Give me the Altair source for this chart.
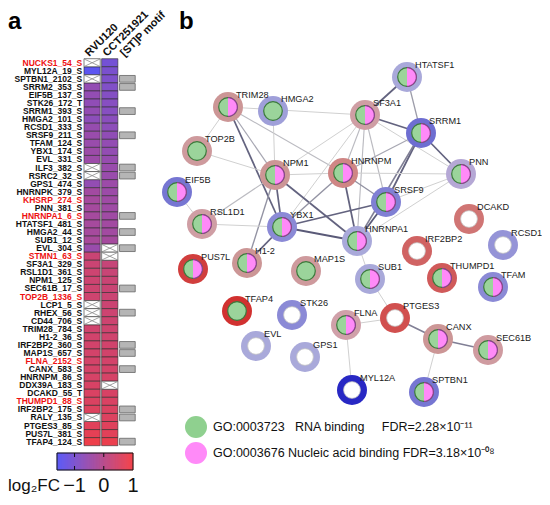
import altair as alt
import numpy as np
import pandas as pd

# ---------------- panel a: heatmap data ----------------
rows = ["NUCKS1_54_S", "MYL12A_19_S", "SPTBN1_2102_S", "SRRM2_353_S", "EIF5B_137_S",
        "STK26_172_T", "SRRM1_393_S", "HMGA2_101_S", "RCSD1_333_S", "SRSF9_211_S",
        "TFAM_124_S", "YBX1_174_S", "EVL_331_S", "ILF3_382_S", "RSRC2_32_S",
        "GPS1_474_S", "HNRNPK_379_S", "KHSRP_274_S", "PNN_381_S", "HNRNPA1_6_S",
        "HTATSF1_481_S", "HMGA2_44_S", "SUB1_12_S", "EVL_304_S", "STMN1_63_S",
        "SF3A1_329_S", "RSL1D1_361_S", "NPM1_125_S", "SEC61B_17_S", "TOP2B_1336_S",
        "LCP1_5_S", "RHEX_56_S", "CD44_706_S", "TRIM28_784_S", "H1-2_36_S",
        "IRF2BP2_360_S", "MAP1S_657_S", "FLNA_2152_S", "CANX_583_S", "HNRNPM_86_S",
        "DDX39A_183_S", "DCAKD_55_T", "THUMPD1_88_S", "IRF2BP2_175_S", "RALY_135_S",
        "PTGES3_85_S", "PUS7L_381_S", "TFAP4_124_S"]
red_rows = ["NUCKS1_54_S", "KHSRP_274_S", "HNRNPA1_6_S", "STMN1_63_S",
            "TOP2B_1336_S", "FLNA_2152_S", "THUMPD1_88_S"]
rvu120 = [None, -1.5, None, -0.6, -0.6, -0.65, -0.6, -0.7, -0.55, -0.5,
          -0.5, -0.45, -0.45, None, None, -0.6, -0.35, -0.3, -0.3, -0.3,
          -0.28, -0.28, -0.25, -0.5, 0.3, 0.32, 0.35, 0.35, 0.36, 0.38,
          None, None, None, 0.4, 0.42, 0.44, 0.45, 0.46, 0.48, 0.5,
          0.52, 0.55, 0.58, 0.62, None, 0.68, 0.75, 0.9]
cct251921 = [-1.1, -1.0, -0.95, -0.9, -0.85, -0.8, -0.8, -0.75, -0.7, -0.65,
             -0.6, -0.6, -0.55, -0.5, -0.5, -0.45, -0.45, -0.4, -0.4, -0.38,
             -0.35, -0.35, -0.3, None, None, 0.25, 0.28, 0.3, 0.3, 0.32,
             0.33, 0.35, 0.36, 0.38, 0.4, 0.42, 0.43, 0.45, 0.47, 0.5,
             None, 0.53, 0.55, 0.58, 0.6, 0.65, 0.7, 0.85]
st_motif = [0, 0, 1, 1, 0, 0, 1, 0, 0, 1, 0, 0, 0, 1, 1, 0, 0, 0, 0, 1, 0, 1, 0, 1,
            0, 0, 0, 0, 1, 0, 0, 1, 0, 0, 0, 1, 1, 0, 1, 0, 0, 0, 0, 1, 1, 0, 0, 1]
cols = ["RVU120", "CCT251921", "[ST]P motif"]
cbar_labels = [-1, 0, 1]

# ---------------- panel b: network data ----------------
node_names = ["HTATSF1", "TRIM28", "HMGA2", "SF3A1", "SRRM1", "TOP2B", "NPM1", "HNRNPM",
              "PNN", "EIF5B", "SRSF9", "RSL1D1", "YBX1", "HNRNPA1", "DCAKD", "RCSD1",
              "IRF2BP2", "H1-2", "PUS7L", "MAP1S", "THUMPD1", "SUB1", "TFAM", "TFAP4",
              "STK26", "PTGES3", "FLNA", "CANX", "SEC61B", "EVL", "GPS1", "MYL12A", "SPTBN1"]
node_x = [407, 228, 273, 365, 421, 197, 275, 343, 461, 177, 386, 202, 282, 357, 469, 503,
          417, 247, 193, 306, 442, 370, 493, 237, 292, 395, 346, 438, 488, 256, 305, 352, 424]
node_y = [77, 107, 111, 115, 133, 151, 175, 173, 174, 192, 202, 224, 227, 241, 219, 245,
          251, 263, 269, 271, 278, 279, 287, 311, 315, 318, 325, 339, 350, 346, 357, 390, 392]
node_fc = [-0.3, 0.25, -0.35, 0.15, -0.6, 0.2, 0.25, 0.35, -0.25, -0.55, -0.5, 0.15, -0.45,
           -0.3, 0.45, -0.4, 0.55, 0.25, 0.85, 0.2, 0.6, -0.3, -0.45, 0.95, -0.45, 0.7,
           0.12, 0.25, 0.18, -0.3, -0.3, -1.0, -0.55]
node_go = ["both", "both", "rna", "both", "both", "rna", "both", "both", "both", "both",
           "both", "both", "both", "both", "none", "none", "none", "both", "both", "rna",
           "both", "both", "both", "rna", "none", "none", "both", "both", "both", "none",
           "none", "none", "both"]
edge_a = ["TRIM28", "TRIM28", "TRIM28", "TRIM28", "TRIM28", "HMGA2", "TOP2B", "SF3A1",
          "SF3A1", "HTATSF1", "SF3A1", "SF3A1", "SF3A1", "SF3A1", "SF3A1", "SF3A1",
          "SRRM1", "SRRM1", "SRRM1", "SRRM1", "PNN", "PNN", "PNN", "NPM1", "NPM1",
          "NPM1", "NPM1", "NPM1", "EIF5B", "RSL1D1", "YBX1", "YBX1", "YBX1", "YBX1",
          "HNRNPM", "HNRNPM", "SRSF9", "HNRNPA1", "SUB1", "FLNA", "PTGES3", "CANX",
          "CANX", "FLNA"]
edge_b = ["SF3A1", "TOP2B", "NPM1", "YBX1", "HNRNPM", "NPM1", "NPM1", "NPM1",
          "HTATSF1", "SRRM1", "SRRM1", "HNRNPM", "HNRNPA1", "SRSF9", "YBX1", "PNN",
          "HNRNPM", "SRSF9", "HNRNPA1", "PNN", "HNRNPM", "SRSF9", "HNRNPA1", "HNRNPM", "YBX1",
          "HNRNPA1", "RSL1D1", "H1-2", "RSL1D1", "YBX1", "H1-2", "HNRNPM", "SRSF9", "HNRNPA1",
          "HNRNPA1", "SRSF9", "HNRNPA1", "SUB1", "PTGES3", "PTGES3", "CANX", "SEC61B",
          "SPTBN1", "MYL12A"]
edge_score = [0.3, 0.3, 0.5, 0.85, 0.4, 0.3, 0.3, 0.3,
              0.85, 0.55, 0.85, 0.4, 0.4, 0.4, 0.3, 0.3,
              0.5, 0.85, 0.7, 0.85, 0.3, 0.3, 0.3, 0.3, 0.85,
              0.85, 0.4, 0.6, 0.3, 0.3, 0.85, 0.6, 0.85, 0.9,
              0.85, 0.6, 0.9, 0.3, 0.3, 0.3, 0.7, 0.7,
              0.3, 0.3]
go_ids = ["GO:0003723", "GO:0003676"]
go_terms = ["RNA binding", "Nucleic acid binding"]
go_fdr = ["2.28×10⁻¹¹", "3.18×10⁻⁰⁸"]

# ---------------- build ----------------
W, H = 534, 489
FONT = "Liberation Sans, Arial, Helvetica, sans-serif"

recs = []
for i, r in enumerate(rows):
    recs.append({"row": r, "col": cols[0], "fc": rvu120[i]})
    recs.append({"row": r, "col": cols[1], "fc": cct251921[i]})
heat = pd.DataFrame(recs)
valid = heat[heat["fc"].notna()]
na = heat[heat["fc"].isna()]
motif_df = pd.DataFrame({"row": [r for r, m in zip(rows, st_motif) if m]})
motif_df["col"] = cols[2]
lab_black = pd.DataFrame({"row": [r for r in rows if r not in red_rows]})
lab_black["col"] = cols[0]
lab_red = pd.DataFrame({"row": [r for r in rows if r in red_rows]})
lab_red["col"] = cols[0]
head_df = pd.DataFrame({"col": cols})
head_df["row"] = rows[0]

xs = alt.Scale(domain=cols, range=[76, 127.5], paddingInner=0.08, paddingOuter=0)
ys = alt.Scale(domain=rows, range=[50.7, 437.7], paddingInner=0, paddingOuter=0)
cscale = alt.Scale(domain=[-1.6, 1.0], range=["#5656f8", "#f43e44"], interpolate="rgb")
X = alt.X("col:N", scale=xs, axis=None)
Y = alt.Y("row:N", scale=ys, axis=None)

cells = alt.Chart(valid).mark_rect(stroke="#2b2b2b", strokeWidth=0.6).encode(
    X, Y, color=alt.Color("fc:Q", scale=cscale, legend=None))
na_cells = alt.Chart(na).mark_rect(fill="white", stroke="#2b2b2b", strokeWidth=0.6).encode(X, Y)
na_cross = alt.Chart(na).mark_point(shape="M-1,-0.47L1,0.47M-1,0.47L1,-0.47", size=262,
                                    filled=False, stroke="#8c8c8c", strokeWidth=0.8,
                                    opacity=1).encode(X, Y)
motif_boxes = alt.Chart(motif_df).mark_point(shape="M-1,-0.43H1V0.43H-1Z", size=246, filled=True,
                                             fill="#b5b5b5", stroke="#666666", strokeWidth=0.8,
                                             opacity=1).encode(X, Y)
labels_b = alt.Chart(lab_black).mark_text(align="right", baseline="middle", dx=-10, font=FONT,
                                          fontSize=8.5, fontWeight="bold", color="#111111").encode(X, Y, text="row:N")
labels_r = alt.Chart(lab_red).mark_text(align="right", baseline="middle", dx=-10, font=FONT,
                                        fontSize=8.5, fontWeight="bold", color="#ee1111").encode(X, Y, text="row:N")
headers = alt.Chart(head_df).mark_text(angle=315, align="left", baseline="alphabetic", dx=2, dy=-6,
                                       font=FONT, fontSize=11, fontWeight="bold",
                                       color="#111111").encode(X, Y, text="col:N")
heat_layer = alt.layer(cells, na_cells, na_cross, motif_boxes, labels_b, labels_r, headers)

# colour bar
edges_cb = np.linspace(-1.6, 1.0, 101)
cb_df = pd.DataFrame({"v": edges_cb[:-1], "v2": edges_cb[1:]})
cbx = alt.Scale(domain=[-1.6, 1.0], range=[49, 125])
cbar = alt.Chart(cb_df).mark_rect(strokeWidth=0.5).encode(
    x=alt.X("v:Q", scale=cbx, axis=None), x2="v2",
    y=alt.value(445), y2=alt.value(462),
    color=alt.Color("v:Q", scale=cscale, legend=None),
    stroke=alt.Stroke("v:Q", scale=cscale, legend=None))
cb_box = alt.Chart(pd.DataFrame({"a": [-1.6], "b": [1.0]})).mark_rect(
    fillOpacity=0, stroke="#111111", strokeWidth=1).encode(
    x=alt.X("a:Q", scale=cbx, axis=None), x2="b", y=alt.value(445), y2=alt.value(462))
tick_df = pd.DataFrame({"v": cbar_labels[:2]})
cb_t1 = alt.Chart(tick_df).mark_rule(color="#111111", strokeWidth=1).encode(
    x=alt.X("v:Q", scale=cbx, axis=None), y=alt.value(445), y2=alt.value(449))
cb_t2 = alt.Chart(tick_df).mark_rule(color="#111111", strokeWidth=1).encode(
    x=alt.X("v:Q", scale=cbx, axis=None), y=alt.value(458), y2=alt.value(462))
cbl_df = pd.DataFrame({"v": cbar_labels, "t": ["−1", "0", "1"]})
cb_lab = alt.Chart(cbl_df).mark_text(baseline="alphabetic", font=FONT, fontSize=20,
                                     color="#111111").encode(
    x=alt.X("v:Q", scale=cbx, axis=None), y=alt.value(484), text="t:N")
cb_title = alt.Chart(pd.DataFrame({"t": ["log₂FC"]})).mark_text(
    align="left", baseline="alphabetic", font=FONT, fontSize=17, color="#111111").encode(
    x=alt.value(0), y=alt.value(483), text="t:N")
cbar_layer = alt.layer(cbar, cb_box, cb_t1, cb_t2, cb_lab, cb_title)

# network
nodes = pd.DataFrame({"name": node_names, "nx": node_x, "ny": node_y, "fc": node_fc, "go": node_go})
edges = pd.DataFrame({"a": edge_a, "b": edge_b, "s": edge_score})
pos = nodes[["name", "nx", "ny"]]
edges = edges.merge(pos.rename(columns={"name": "a"}), on="a").merge(
    pos.rename(columns={"name": "b", "nx": "nx2", "ny": "ny2"}), on="b")
nxs = alt.Scale(domain=[150, 520], range=[142, 512])
nys = alt.Scale(domain=[60, 400], range=[52, 392])
NX = alt.X("nx:Q", scale=nxs, axis=None)
NY = alt.Y("ny:Q", scale=nys, axis=None)
halo_scale = alt.Scale(domain=[-1, -0.55, -0.3, 0, 0.25, 0.6, 1],
                       range=["#2828c4", "#7676d2", "#a9a9da", "#d2aab8", "#cc9696", "#d05a5a", "#d02a2a"])

# right half-disc glyph (symbol shape, unit coordinates)
_t = np.linspace(-np.pi / 2, np.pi / 2, 31)
half_right = "M" + "L".join(f"{np.cos(a):.3f},{np.sin(a):.3f}" for a in _t)

edge_layer = alt.Chart(edges).mark_rule().encode(
    NX, NY, x2="nx2:Q", y2="ny2:Q",
    stroke=alt.Stroke("s:Q", scale=alt.Scale(domain=[0.3, 0.9], range=["#d0d0d0", "#5a5a78"]), legend=None),
    strokeWidth=alt.StrokeWidth("s:Q", scale=alt.Scale(domain=[0.3, 0.9], range=[1.0, 1.8]), legend=None))
halo = alt.Chart(nodes).mark_circle(size=900, opacity=1).encode(
    NX, NY, color=alt.Color("fc:Q", scale=halo_scale, legend=None))
green = alt.Chart(nodes[nodes["go"] != "none"]).mark_point(
    shape="circle", size=346, filled=True, fill="#9bd49b", stroke="#3b7a3b", strokeWidth=1.2,
    opacity=1).encode(NX, NY)
pink = alt.Chart(nodes[nodes["go"] == "both"]).mark_point(
    shape=half_right, size=346, filled=True, fill="#ff8af8", stroke="#8e3e8e",
    strokeWidth=1.2, opacity=1).encode(NX, NY)
empty = alt.Chart(nodes[nodes["go"] == "none"]).mark_point(
    shape="circle", size=280, filled=True, fill="white", stroke="#c4c4c4", strokeWidth=0.8,
    opacity=1).encode(NX, NY)
nlabels = alt.Chart(nodes).mark_text(align="left", baseline="middle", dx=8, dy=-12, font=FONT,
                                     fontSize=9.2, color="#1a1a1a").encode(NX, NY, text="name:N")
net_layer = alt.layer(edge_layer, halo, green, pink, empty, nlabels).resolve_scale(
    color="independent", stroke="independent")

# GO legend
nb = "\u00a0"
leg_df = pd.DataFrame({
    "id": go_ids,
    "txt": [go_ids[0] + nb * 3 + go_terms[0] + nb * 5 + "FDR=" + go_fdr[0],
            go_ids[1] + nb + go_terms[1] + nb + "FDR=" + go_fdr[1]]})
ly = alt.Scale(type="point", domain=go_ids, range=[419, 445], padding=0)
leg_c = alt.Chart(leg_df).mark_circle(size=484, opacity=1).encode(
    x=alt.value(188), y=alt.Y("id:N", scale=ly, axis=None),
    color=alt.Color("id:N", scale=alt.Scale(domain=go_ids, range=["#8fd08f", "#ff8af8"]), legend=None))
leg_t = alt.Chart(leg_df).mark_text(align="left", baseline="middle", font=FONT, fontSize=12.5,
                                    color="#111111").encode(
    x=alt.value(205), y=alt.Y("id:N", scale=ly, axis=None), text="txt:N")
legend_layer = alt.layer(leg_c, leg_t)

# panel letters
let_a = alt.Chart(pd.DataFrame({"t": ["a"]})).mark_text(
    align="left", baseline="alphabetic", font=FONT, fontSize=24, fontWeight="bold", color="#000").encode(
    x=alt.value(0), y=alt.value(21), text="t:N")
let_b = alt.Chart(pd.DataFrame({"t": ["b"]})).mark_text(
    align="left", baseline="alphabetic", font=FONT, fontSize=24, fontWeight="bold", color="#000").encode(
    x=alt.value(171), y=alt.value(21), text="t:N")

chart = alt.layer(heat_layer, cbar_layer, net_layer, legend_layer, let_a, let_b).resolve_scale(
    x="independent", y="independent", color="independent", stroke="independent",
    strokeWidth="independent").properties(
    width=W, height=H, autosize=alt.AutoSizeParams(type="none"), padding=0,
    background="white").configure_view(stroke=None)

chart.save("out.html", embed_options={"renderer": "svg", "actions": False})
